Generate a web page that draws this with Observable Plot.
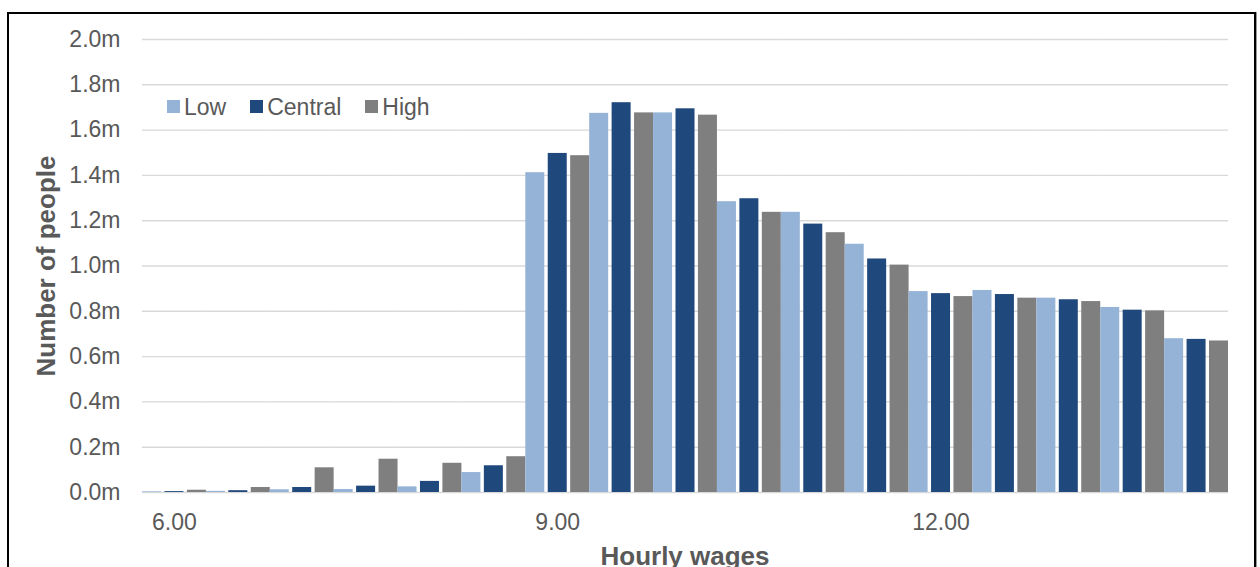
<!DOCTYPE html>
<html>
<head>
<meta charset="utf-8">
<script src="https://cdn.jsdelivr.net/npm/d3@7"></script>
<script src="https://cdn.jsdelivr.net/npm/@observablehq/plot@0.6"></script>
<style>
  html, body { margin: 0; padding: 0; background: #fff; }
  #wrap { position: relative; width: 1260px; height: 567px; overflow: hidden; font-family: "Liberation Sans", Arial, sans-serif; color: #595959; }
  #chart { position: absolute; left: 0; top: 0; }
  #frame { position: absolute; left: 7px; top: 12px; width: 1249px; height: 620px; border: 2px solid #000; box-sizing: border-box; box-shadow: 1px 0 0 #999; pointer-events: none; }
  #legend { position: absolute; left: 167px; top: 93.5px; height: 26px; display: flex; align-items: center; gap: 24px; font-size: 23px; line-height: 26px; }
  #legend .item { display: flex; align-items: center; gap: 4px; }
  #legend .sw { width: 13px; height: 13px; display: inline-block; }
  .title { position: absolute; font-weight: bold; font-size: 26px; white-space: nowrap; color: #595959; }
  #ytitle { left: 46px; top: 265.5px; transform: translate(-50%, -50%) rotate(-90deg); }
  #xtitle { left: 685px; top: 541px; transform: translateX(-50%); }
</style>
</head>
<body>
<div id="wrap">
  <div id="chart"></div>
  <div id="legend"></div>
  <div id="ytitle" class="title"></div>
  <div id="xtitle" class="title"></div>
  <div id="frame"></div>
</div>
<script>
// Hourly wage bands (one cluster of three scenario bars per band)
const wages = ["6.00", "6.50", "7.00", "7.50", "8.00", "8.50", "9.00", "9.50", "10.00",
               "10.50", "11.00", "11.50", "12.00", "12.50", "13.00", "13.50", "14.00"];

// Scenario names and colours
const seriesNames = ["Low", "Central", "High"];
const seriesColors = ["#95b3d7", "#1f497d", "#7f7f7f"];

// Number of people (millions) in each wage band, per scenario
const low     = [0.003, 0.005, 0.012, 0.013, 0.025, 0.088, 1.412, 1.674, 1.676, 1.284, 1.237, 1.096, 0.887, 0.892, 0.858, 0.817, 0.679];
const central = [0.004, 0.008, 0.022, 0.028, 0.049, 0.118, 1.497, 1.721, 1.694, 1.297, 1.185, 1.031, 0.878, 0.874, 0.851, 0.805, 0.676];
const high    = [0.010, 0.022, 0.109, 0.147, 0.129, 0.158, 1.487, 1.676, 1.666, 1.237, 1.147, 1.004, 0.865, 0.858, 0.843, 0.802, 0.669];

// Axis ticks and titles
const yTicks = [0, 0.2, 0.4, 0.6, 0.8, 1.0, 1.2, 1.4, 1.6, 1.8, 2.0];
const xTickLabels = ["6.00", "9.00", "12.00"];
const yTitle = "Number of people";
const xTitle = "Hourly wages";

const seriesValues = {Low: low, Central: central, High: high};
const rows = wages.flatMap((wage, i) =>
  seriesNames.map(series => ({wage, series, value: seriesValues[series][i]}))
);

const chart = Plot.plot({
  width: 1260,
  height: 567,
  marginLeft: 142,
  marginRight: 32,
  marginTop: 39,
  marginBottom: 75,
  style: {fontFamily: "Liberation Sans, Arial, sans-serif", color: "#595959", background: "transparent", overflow: "visible"},
  fx: {domain: wages, padding: 0, round: false, axis: null},
  x: {domain: seriesNames, paddingInner: 0.153, paddingOuter: 0, round: false, axis: null},
  y: {domain: [0, 2.0], axis: null},
  color: {domain: seriesNames, range: seriesColors},
  marks: [
    Plot.gridY(yTicks, {stroke: "#d9d9d9", strokeOpacity: 1, strokeWidth: 1.4}),
    Plot.barY(rows, {fx: "wage", x: "series", y: "value", fill: "series"}),
    Plot.axisY(yTicks, {tickSize: 0, tickPadding: 22, fontSize: 23, label: null,
      tickFormat: d => d.toFixed(1) + "m"}),
    Plot.axisFx({anchor: "bottom", ticks: xTickLabels, tickSize: 0, tickPadding: 21, fontSize: 23, label: null})
  ]
});
document.getElementById("chart").appendChild(chart);

// Legend built from the scenario names and colours
const legend = document.getElementById("legend");
seriesNames.forEach((name, i) => {
  const item = document.createElement("span");
  item.className = "item";
  const sw = document.createElement("span");
  sw.className = "sw";
  sw.style.background = seriesColors[i];
  const label = document.createElement("span");
  label.textContent = name;
  item.appendChild(sw);
  item.appendChild(label);
  legend.appendChild(item);
});

document.getElementById("ytitle").textContent = yTitle;
document.getElementById("xtitle").textContent = xTitle;
</script>
</body>
</html>
